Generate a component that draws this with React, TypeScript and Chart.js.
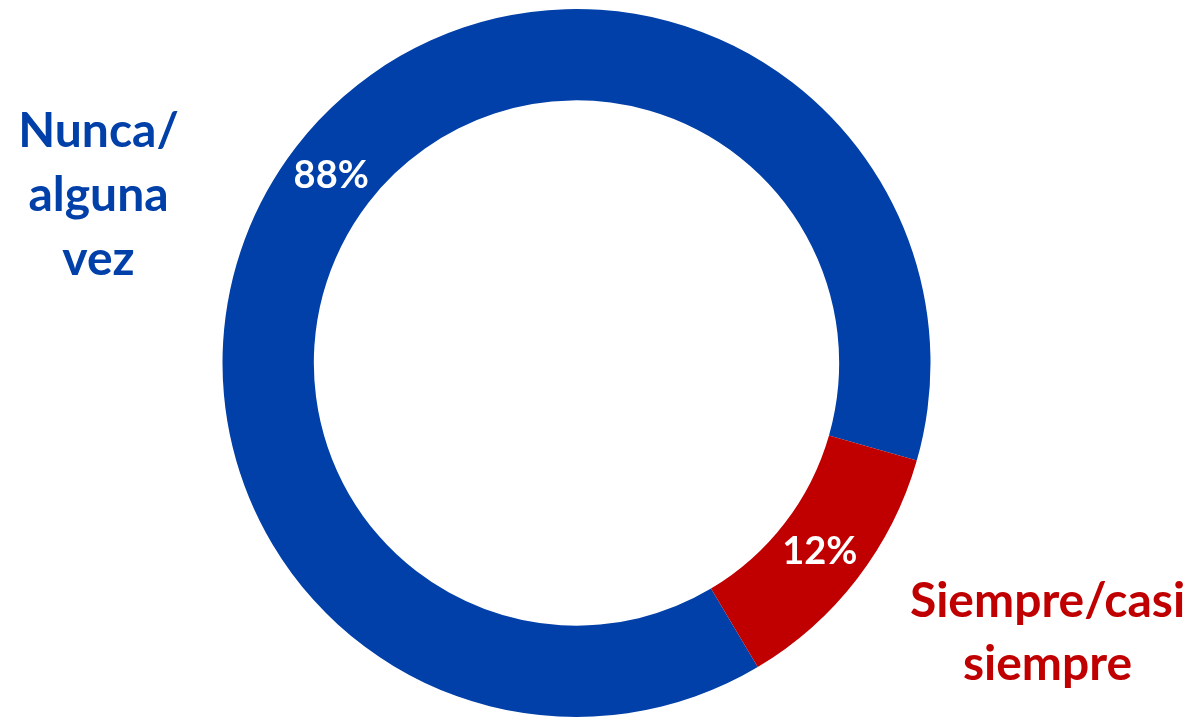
import React, { useEffect, useRef } from "react";
import { Chart, registerables } from "chart.js";

Chart.register(...registerables);

const categories = ["Nunca/alguna vez", "Siempre/casi siempre"];
const values = [88, 12];
const valueLabels = ["88%", "12%"];
const labelLines = [["Nunca/", "alguna", "vez"], ["Siempre/casi", "siempre"]];
const colors = ["#0040A8", "#C00000"];

const FONT = "Lato, 'Open Sans', sans-serif";

const labelPlugin = {
  id: "labelPlugin",
  afterDraw(chart: any) {
    const ctx = chart.ctx;
    const meta = chart.getDatasetMeta(0);
    ctx.save();
    ctx.textAlign = "center";
    ctx.textBaseline = "alphabetic";
    // value labels inside the ring
    meta.data.forEach((arc: any, i: number) => {
      const p = arc.tooltipPosition();
      ctx.fillStyle = "#ffffff";
      ctx.font = `bold 38px ${FONT}`;
      ctx.fillText(valueLabels[i], p.x - 1, p.y + 13);
    });
    // category labels outside
    const first = meta.data[0];
    const cx = first.x;
    const cy = first.y;
    const R = first.outerRadius;
    ctx.font = `bold 48px ${FONT}`;
    // left label
    ctx.fillStyle = colors[0];
    const lx = cx - R - 124;
    const ly = cy - 216;
    labelLines[0].forEach((t, j) => ctx.fillText(t, lx, ly + j * 64));
    // right label
    ctx.fillStyle = colors[1];
    const rx = cx + R + 117;
    const ry = cy + 254;
    labelLines[1].forEach((t, j) => ctx.fillText(t, rx, ry + j * 63));
    ctx.restore();
  },
};

export default function App() {
  const ref = useRef<HTMLCanvasElement | null>(null);
  useEffect(() => {
    if (!ref.current) return;
    const chart = new Chart(ref.current, {
      type: "doughnut",
      data: {
        labels: categories,
        datasets: [
          {
            data: values,
            backgroundColor: colors,
            borderWidth: 0,
          },
        ],
      },
      options: {
        responsive: false,
        animation: false,
        rotation: 149.2,
        cutout: "74.2%",
        layout: { padding: { left: 222, right: 268, top: 9, bottom: 0 } },
        plugins: {
          legend: { display: false },
          tooltip: { enabled: false },
        },
      },
      plugins: [labelPlugin],
    });
    return () => chart.destroy();
  }, []);
  return (
    <canvas
      ref={ref}
      width={1199}
      height={717}
      style={{ position: "fixed", top: 0, left: 0, display: "block", background: "#fff" }}
    />
  );
}
